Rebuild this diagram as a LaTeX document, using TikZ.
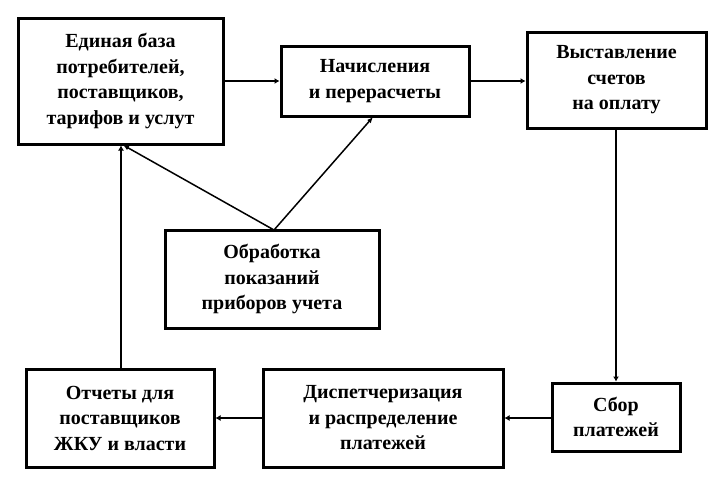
\documentclass[tikz,border=0pt]{standalone}
\usepackage{fontspec}
\setmainfont{Liberation Serif}
\usetikzlibrary{arrows.meta}
\begin{document}
\begin{tikzpicture}[x=1pt,y=-1pt,
  blk/.style={draw,line width=3pt,align=center,inner sep=0pt,
    font=\bfseries\fontsize{20}{25.5}\selectfont},
  conn/.style={line width=2.2pt,-{Latex[length=5pt,width=6pt]}},
  thin/.style={line width=1.5pt,-{Latex[length=6pt,width=5pt]}}]
\useasboundingbox (0,0) rectangle (718,485);
\node[blk,minimum width=205pt,minimum height=126pt] (A) at (120.5,81) {Единая база\\потребителей,\\поставщиков,\\тарифов и услут};
\node[blk,minimum width=188pt,minimum height=70pt] (B) at (375,81) {Начисления\\и перерасчеты};
\node[blk,minimum width=179pt,minimum height=96pt] (C) at (616.5,80) {Выставление\\счетов\\на оплату};
\node[blk,minimum width=214pt,minimum height=98pt] (D) at (272,279) {Обработка\\показаний\\приборов учета};
\node[blk,minimum width=188pt,minimum height=98pt] (E) at (120,418) {Отчеты для\\поставщиков\\ЖКУ и власти};
\node[blk,minimum width=240pt,minimum height=98pt] (F) at (383,418) {Диспетчеризация\\и распределение\\платежей};
\node[blk,minimum width=128pt,minimum height=68pt] (G) at (616,417) {Сбор\\платежей};
\coordinate (d0) at (274,230);
\draw[conn] (A.east |- 0,81) -- (B.west |- 0,81);
\draw[conn] (B.east |- 0,81) -- (C.west |- 0,81);
\draw[conn] (C.south -| 616,0) -- (G.north -| 616,0);
\draw[conn] (G.west |- 0,418) -- (F.east |- 0,418);
\draw[conn] (F.west |- 0,418) -- (E.east |- 0,418);
\draw[conn] (E.north -| 121,0) -- (A.south -| 121,0);
\draw[thin] (d0) -- (123,145);
\draw[thin] (d0) -- (373,117);
\end{tikzpicture}
\end{document}
